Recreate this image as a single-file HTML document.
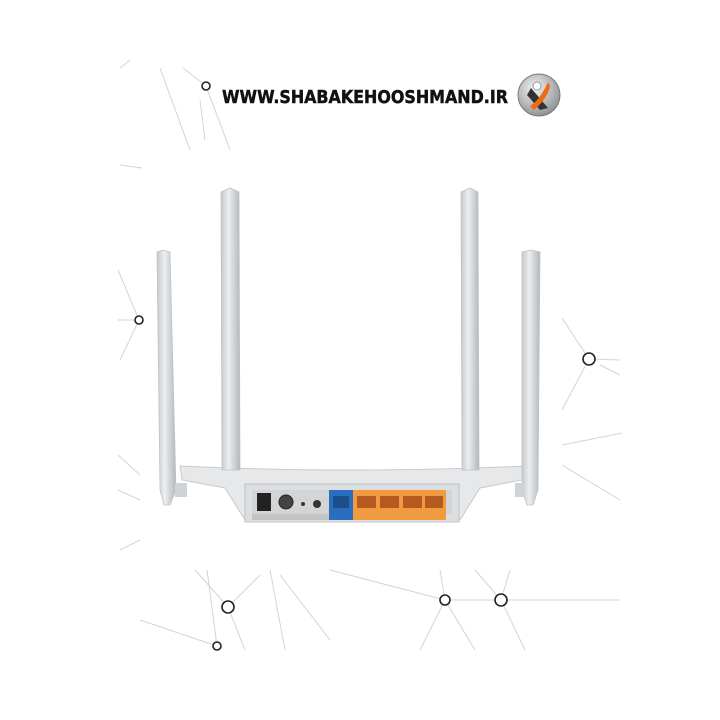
<!DOCTYPE html>
<html><head><meta charset="utf-8"><style>
body{margin:0;width:720px;height:720px;background:#fff;overflow:hidden}
svg{display:block}
</style></head><body>
<svg width="720" height="720" viewBox="0 0 720 720" xmlns="http://www.w3.org/2000/svg">
<defs>
<linearGradient id="ant" x1="0" x2="1"><stop offset="0" stop-color="#c4c8cd"/><stop offset=".4" stop-color="#eceef0"/><stop offset="1" stop-color="#b3b7bd"/></linearGradient>
<radialGradient id="logo" cx=".4" cy=".35" r=".7"><stop offset="0" stop-color="#f4f4f4"/><stop offset="1" stop-color="#8a8d92"/></radialGradient>
</defs>
<g stroke="#d4d4d4" stroke-width="1" fill="none">
<line x1="120" y1="68" x2="130" y2="60"/><line x1="160" y1="68" x2="190" y2="150"/><line x1="183" y1="68" x2="206" y2="86"/><line x1="206" y1="86" x2="230" y2="150"/><line x1="200" y1="100" x2="205" y2="140"/>
<line x1="120" y1="165" x2="142" y2="168"/>
<line x1="118" y1="270" x2="139" y2="320"/><line x1="118" y1="320" x2="139" y2="320"/><line x1="120" y1="360" x2="139" y2="320"/>
<line x1="562" y1="318" x2="589" y2="359"/><line x1="589" y1="359" x2="620" y2="360"/><line x1="589" y1="359" x2="562" y2="410"/><line x1="600" y1="365" x2="620" y2="375"/>
<line x1="562" y1="445" x2="622" y2="433"/><line x1="562" y1="465" x2="620" y2="500"/>
<line x1="118" y1="455" x2="140" y2="475"/><line x1="118" y1="490" x2="140" y2="500"/><line x1="120" y1="550" x2="140" y2="540"/>
<line x1="195" y1="570" x2="228" y2="607"/><line x1="228" y1="607" x2="260" y2="575"/><line x1="228" y1="607" x2="245" y2="650"/><line x1="207" y1="570" x2="217" y2="646"/><line x1="140" y1="620" x2="217" y2="646"/><line x1="270" y1="570" x2="285" y2="650"/><line x1="280" y1="575" x2="330" y2="640"/>
<line x1="330" y1="570" x2="445" y2="600"/><line x1="445" y1="600" x2="420" y2="650"/><line x1="445" y1="600" x2="475" y2="650"/><line x1="445" y1="600" x2="501" y2="600"/><line x1="501" y1="600" x2="620" y2="600"/><line x1="501" y1="600" x2="475" y2="570"/><line x1="501" y1="600" x2="525" y2="650"/><line x1="501" y1="600" x2="510" y2="570"/><line x1="440" y1="570" x2="445" y2="600"/>
</g>
<g fill="#fff" stroke="#222" stroke-width="1.6">
<circle cx="206" cy="86" r="4"/><circle cx="139" cy="320" r="4"/><circle cx="589" cy="359" r="6"/><circle cx="228" cy="607" r="6"/><circle cx="217" cy="646" r="4"/><circle cx="445" cy="600" r="5"/><circle cx="501" cy="600" r="6"/>
</g>
<text x="222" y="103" font-family="DejaVu Sans, Liberation Sans, sans-serif" font-weight="bold" font-size="18" fill="#111" stroke="#111" stroke-width=".5" textLength="286" lengthAdjust="spacingAndGlyphs">WWW.SHABAKEHOOSHMAND.IR</text>
<circle cx="539" cy="95" r="21" fill="url(#logo)" stroke="#777"/>
<path d="M531 88 L548 108 L540 110 L527 95Z" fill="#333"/>
<path d="M548 82 Q540 100 530 106 L534 110 Q548 98 550 86Z" fill="#f06a12"/>
<circle cx="537" cy="86" r="4" fill="#fff" stroke="#999"/>
<path d="M180 466 Q350 474 525 466 L522 480 L480 488 L460 520 L245 520 L225 488 L182 480Z" fill="#e6e8ea" stroke="#c8cbce"/>
<rect x="245" y="484" width="214" height="38" fill="#dcdee0" stroke="#c0c3c6"/>
<rect x="252" y="490" width="200" height="24" fill="#d2d4d6"/>
<rect x="257" y="493" width="14" height="18" fill="#222"/>
<circle cx="286" cy="502" r="7" fill="#444" stroke="#222"/>
<circle cx="303" cy="504" r="2" fill="#333"/>
<circle cx="317" cy="504" r="4" fill="#333"/>
<rect x="329" y="490" width="24" height="24" fill="#2a6fbf"/>
<rect x="353" y="490" width="93" height="24" fill="#f09a42"/>
<g fill="#b55a1e"><rect x="357" y="496" width="19" height="12"/><rect x="380" y="496" width="19" height="12"/><rect x="403" y="496" width="19" height="12"/><rect x="425" y="496" width="18" height="12"/></g>
<rect x="333" y="496" width="16" height="12" fill="#1c4f8c"/>
<rect x="252" y="514" width="77" height="6" fill="#c2c4c6"/>
<rect x="329" y="514" width="24" height="6" fill="#2a6fbf"/>
<rect x="353" y="514" width="93" height="6" fill="#f09a42"/>
<path d="M157 252 L163 250 L170 252 L176 490 L170 505 L164 505 L160 490Z" fill="url(#ant)" stroke="#bfc3c8" stroke-width=".8"/>
<path d="M221 192 L230 188 L239 192 L240 470 L222 470Z" fill="url(#ant)" stroke="#bfc3c8" stroke-width=".8"/>
<path d="M461 192 L470 188 L478 192 L479 470 L462 470Z" fill="url(#ant)" stroke="#bfc3c8" stroke-width=".8"/>
<path d="M522 252 L531 250 L540 252 L538 490 L533 505 L527 505 L522 490Z" fill="url(#ant)" stroke="#bfc3c8" stroke-width=".8"/>
<rect x="175" y="483" width="12" height="14" fill="#d0d3d6"/><rect x="515" y="483" width="10" height="14" fill="#d0d3d6"/>
</svg>
</body></html>
